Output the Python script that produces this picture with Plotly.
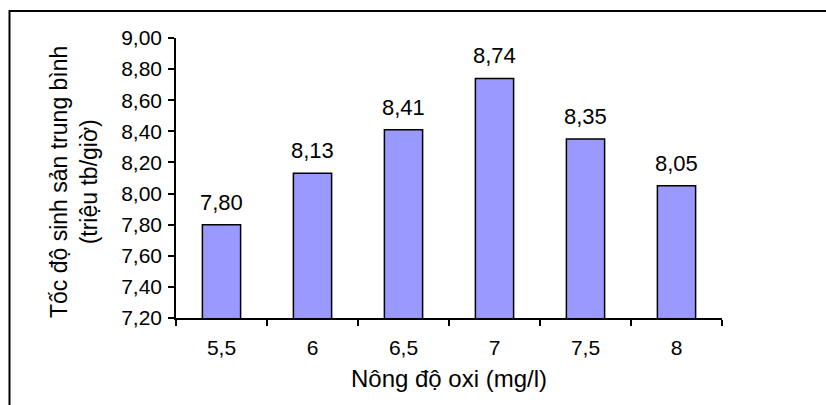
import plotly.graph_objects as go

categories = ["5,5", "6", "6,5", "7", "7,5", "8"]
values = [7.80, 8.13, 8.41, 8.74, 8.35, 8.05]
y_ticks = [7.20, 7.40, 7.60, 7.80, 8.00, 8.20, 8.40, 8.60, 8.80, 9.00]
y_tick_labels = [f"{v:.2f}".replace(".", ",") for v in y_ticks]
value_labels = [f"{v:.2f}".replace(".", ",") for v in values]
x_title = "Nông độ oxi (mg/l)"
y_title = "Tốc độ sinh sản trung bình<br>(triệu tb/giờ)"

W, H = 826, 405
L, R, T, B = 176, 104, 38, 87

FONT = "Liberation Sans, Arial, sans-serif"

fig = go.Figure()
fig.add_trace(go.Bar(
    x=categories, y=values,
    marker=dict(color="#9999FF", line=dict(color="black", width=1.5)),
    width=0.42,
    hoverinfo="skip",
))

for i, (v, t) in enumerate(zip(values, value_labels)):
    fig.add_annotation(x=i, y=v, text=t, showarrow=False, yanchor="bottom",
                       yshift=8, font=dict(size=22, color="black", family=FONT))

pw = W - L - R
ph = H - T - B
# outer chart border (left and top visible)
fig.add_shape(type="rect", xref="paper", yref="paper",
              x0=(9.5 - L) / pw, x1=(W + 20 - L) / pw,
              y0=-(H + 20 - T - ph) / ph, y1=1 + (T - 11) / ph,
              line=dict(color="black", width=2), fillcolor="rgba(0,0,0,0)")

# y-axis title placed as rotated annotation
fig.add_annotation(xref="paper", yref="paper",
                   x=(74 - L) / pw, y=1 - (182 - T) / ph,
                   xanchor="center", yanchor="middle", textangle=-90,
                   text=y_title, showarrow=False,
                   font=dict(size=23, color="black", family=FONT))

fig.update_layout(
    width=W, height=H,
    margin=dict(l=L, r=R, t=T, b=B),
    paper_bgcolor="white", plot_bgcolor="white",
    showlegend=False,
    font=dict(family=FONT, size=21, color="black"),
    xaxis=dict(
        type="category",
        showline=True, linecolor="black", linewidth=1.5,
        ticks="outside", ticklen=6, tickcolor="black", tickwidth=1.5,
        tickson="boundaries", showgrid=False,
        ticklabelstandoff=10,
        title=dict(text=x_title, font=dict(size=24), standoff=12),
        tickfont=dict(size=21),
    ),
    yaxis=dict(
        range=[7.2, 9.0],
        tickvals=y_ticks, ticktext=y_tick_labels,
        showline=True, linecolor="black", linewidth=1.5,
        ticks="outside", ticklen=6, tickcolor="black", tickwidth=1.5,
        showgrid=False, zeroline=False,
        ticklabelstandoff=2,
        tickfont=dict(size=21),
    ),
)

fig.write_html("out.html")
